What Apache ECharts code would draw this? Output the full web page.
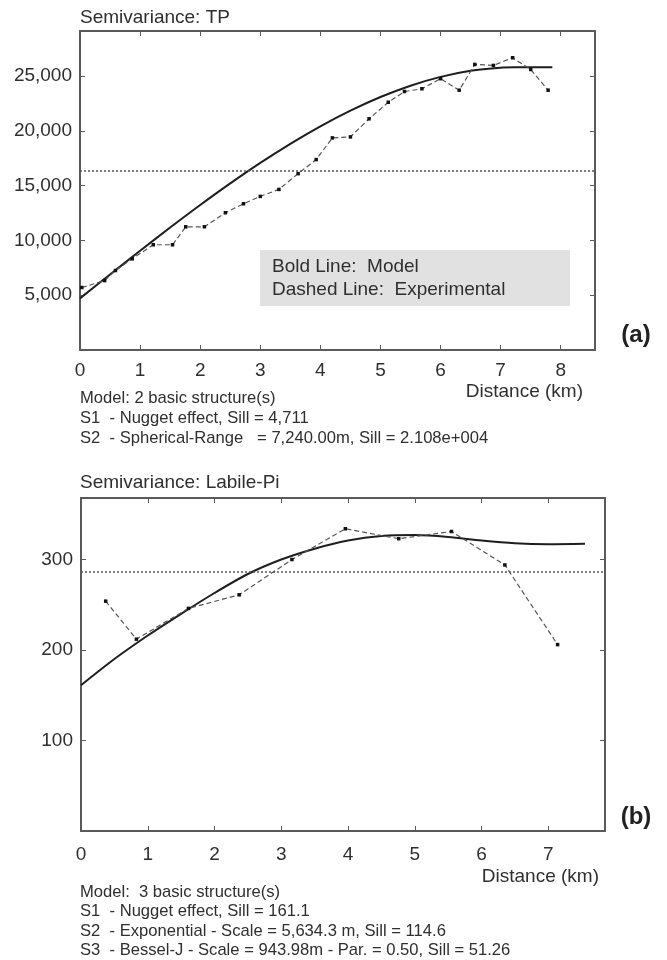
<!DOCTYPE html>
<html>
<head>
<meta charset="utf-8">
<script src="https://cdn.jsdelivr.net/npm/echarts@6/dist/echarts.min.js"></script>
<style>
  html, body { margin: 0; padding: 0; background: #fff; }
  #chart { width: 667px; height: 960px; }
</style>
</head>
<body>
<div id="chart"></div>
<script>
// Panel (a): TP semivariogram
const modelTP = [[0, 4711], [0.5, 6891], [1, 9051], [1.5, 11168], [2, 13224], [2.5, 15196],
    [3, 17063], [3.5, 18806], [4, 20403], [4.5, 21833], [5, 23076], [5.5, 24111],
    [6, 24916], [6.5, 25472], [7, 25757], [7.24, 25791], [7.86, 25791]];
const experimentalTP = [[0.03, 5700], [0.41, 6330], [0.59, 7250], [0.87, 8320], [1.22, 9600],
    [1.54, 9600], [1.76, 11240], [2.07, 11240], [2.42, 12520], [2.72, 13340], [3.0, 14010],
    [3.31, 14650], [3.63, 16090], [3.93, 17370], [4.2, 19350], [4.5, 19440], [4.81, 21090],
    [5.13, 22600], [5.4, 23580], [5.69, 23830], [6.0, 24750], [6.31, 23700], [6.57, 26050],
    [6.88, 25960], [7.2, 26660], [7.5, 25590], [7.79, 23700]];
const varianceTP = 16330;

// Panel (b): Labile-Pi semivariogram
const modelPi = [[0, 161], [0.5, 190], [1, 216], [1.5, 240], [2, 263], [2.5, 284], [3, 300],
    [3.5, 312], [4, 321], [4.5, 326], [5, 327], [5.5, 325], [6, 321], [6.5, 318],
    [7, 317], [7.55, 317.5]];
const experimentalPi = [[0.37, 254], [0.83, 212], [1.61, 246], [2.37, 261], [3.16, 300],
    [3.96, 334], [4.76, 323], [5.55, 331], [6.35, 294], [7.14, 206]];
const variancePi = 286;

const notesTP = [
    'Model: 2 basic structure(s)',
    'S1  - Nugget effect, Sill = 4,711',
    'S2  - Spherical-Range   = 7,240.00m, Sill = 2.108e+004'
];
const notesPi = [
    'Model:  3 basic structure(s)',
    'S1  - Nugget effect, Sill = 161.1',
    'S2  - Exponential - Scale = 5,634.3 m, Sill = 114.6',
    'S3  - Bessel-J - Scale = 943.98m - Par. = 0.50, Sill = 51.26'
];

const FONT = '"Liberation Sans", Arial, Helvetica, sans-serif';
const TEXT = '#2f2f2f';
const FRAME = '#5a5a5a';

function xAxisFor(gridIndex, max, position, labelMargin) {
    return {
        type: 'value', gridIndex: gridIndex, position: position,
        min: 0, max: max, interval: 1,
        axisLine: { show: true, onZero: false, lineStyle: { color: FRAME, width: 2 } },
        axisTick: { show: true, inside: true, length: 5, lineStyle: { color: FRAME, width: 1 } },
        splitLine: { show: false },
        axisLabel: {
            show: position === 'bottom', margin: labelMargin,
            color: TEXT, fontSize: 19, fontFamily: FONT,
            formatter: v => Number.isInteger(v) ? String(v) : ''
        }
    };
}

function yAxisFor(gridIndex, max, interval, position, fmt) {
    return {
        type: 'value', gridIndex: gridIndex, position: position,
        min: 0, max: max, interval: interval,
        axisLine: { show: true, onZero: false, lineStyle: { color: FRAME, width: 2 } },
        axisTick: { show: true, inside: true, length: 5, lineStyle: { color: FRAME, width: 1 } },
        splitLine: { show: false },
        axisLabel: {
            show: position === 'left', margin: 8,
            color: TEXT, fontSize: 19, fontFamily: FONT,
            formatter: fmt
        }
    };
}

const fmtTP = v => (v > 0 && v % 5000 === 0) ? v.toLocaleString('en-US') : '';
const fmtPi = v => (v > 0 && v % 100 === 0) ? String(v) : '';

function modelSeries(data, axis) {
    return {
        type: 'line', xAxisIndex: axis, yAxisIndex: axis, data: data,
        smooth: 0.3, showSymbol: false, symbol: 'none', z: 3,
        lineStyle: { color: '#1e1e1e', width: 2 }
    };
}

function experimentalSeries(data, axis, sill) {
    return {
        type: 'line', xAxisIndex: axis, yAxisIndex: axis, data: data,
        symbol: 'rect', symbolSize: 3.5, z: 4,
        itemStyle: { color: '#111' },
        lineStyle: { color: '#555', width: 1.2, type: [5, 3] },
        markLine: {
            silent: true, symbol: 'none', label: { show: false },
            lineStyle: { color: '#555', width: 1.5, type: [2, 2] },
            data: [{ yAxis: sill }]
        }
    };
}

function textItem(text, x, y, size, opts) {
    return {
        type: 'text', x: x, y: y, z: 10,
        style: Object.assign({
            text: text, font: size + 'px ' + FONT, fill: TEXT,
            align: 'left', verticalAlign: 'middle'
        }, opts || {})
    };
}

const graphics = [
    textItem('Semivariance: TP', 80, 18, 19),
    textItem('Semivariance: Labile-Pi', 80, 483, 19),
    textItem('Distance (km)', 583, 392, 19, { align: 'right' }),
    textItem('Distance (km)', 599, 877, 19, { align: 'right' }),
    textItem('(a)', 636, 335, 24, { align: 'center', font: 'bold 24px ' + FONT, fill: '#222' }),
    textItem('(b)', 636, 817, 24, { align: 'center', font: 'bold 24px ' + FONT, fill: '#222' }),
    {
        type: 'rect', z: 1,
        shape: { x: 260, y: 250, width: 310, height: 56 },
        style: { fill: '#e1e1e1' }
    },
    textItem('Bold Line:  Model', 272, 267, 19),
    textItem('Dashed Line:  Experimental', 272, 290, 19)
];
notesTP.forEach((line, i) => graphics.push(textItem(line, 80, 398 + i * 20, 16.6)));
notesPi.forEach((line, i) => graphics.push(textItem(line, 80, 892 + i * 19.5, 16.6)));

const chart = echarts.init(document.getElementById('chart'), null, { renderer: 'canvas' });
chart.setOption({
    animation: false,
    backgroundColor: '#fff',
    grid: [
        { left: 80, top: 31, width: 515, height: 319 },
        { left: 81, top: 498, width: 524, height: 333 }
    ],
    xAxis: [
        xAxisFor(0, 8.57, 'bottom', 11),
        xAxisFor(1, 7.85, 'bottom', 14),
        xAxisFor(0, 8.57, 'top', 0),
        xAxisFor(1, 7.85, 'top', 0)
    ],
    yAxis: [
        yAxisFor(0, 29100, 5000, 'left', fmtTP),
        yAxisFor(1, 368, 100, 'left', fmtPi),
        yAxisFor(0, 29100, 5000, 'right', fmtTP),
        yAxisFor(1, 368, 100, 'right', fmtPi)
    ],
    series: [
        modelSeries(modelTP, 0),
        experimentalSeries(experimentalTP, 0, varianceTP),
        modelSeries(modelPi, 1),
        experimentalSeries(experimentalPi, 1, variancePi)
    ],
    graphic: graphics
});
</script>
</body>
</html>
